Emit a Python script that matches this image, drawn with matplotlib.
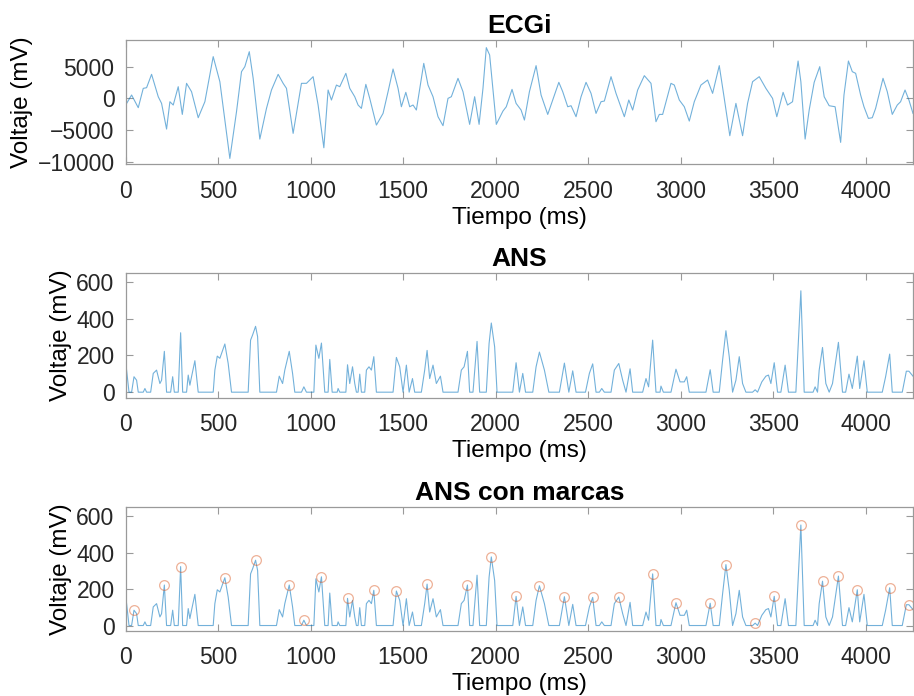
import matplotlib
matplotlib.use('Agg')
import matplotlib.pyplot as plt

plt.rcParams['font.family'] = ['Liberation Sans', 'DejaVu Sans']

# ECGi signal (ms, mV)
ecg_t = [0, 32, 68, 95, 113, 140, 176, 194, 221, 239, 257, 284, 306, 329, 356, 392, 428, 473, 509,
         563, 599, 626, 644, 668, 689, 725, 761, 788, 824, 851, 869, 905, 950, 977, 1013, 1040, 1071,
         1094, 1112, 1139, 1157, 1190, 1211, 1238, 1256, 1274, 1298, 1319, 1355, 1391, 1418, 1445,
         1472, 1490, 1514, 1535, 1553, 1571, 1611, 1634, 1661, 1688, 1715, 1742, 1760, 1796, 1823,
         1859, 1886, 1910, 1931, 1949, 1967, 2003, 2039, 2057, 2088, 2110, 2137, 2155, 2182, 2218,
         2245, 2281, 2308, 2341, 2362, 2389, 2407, 2434, 2461, 2488, 2515, 2542, 2569, 2587, 2623,
         2650, 2695, 2719, 2740, 2767, 2803, 2839, 2866, 2884, 2902, 2947, 2965, 2992, 3019, 3046,
         3073, 3109, 3145, 3172, 3208, 3235, 3265, 3298, 3334, 3361, 3388, 3424, 3460, 3496, 3519,
         3553, 3577, 3604, 3634, 3649, 3672, 3694, 3721, 3751, 3775, 3802, 3834, 3864, 3882, 3906,
         3927, 3945, 3972, 3990, 4014, 4035, 4053, 4093, 4116, 4143, 4170, 4188, 4212, 4233, 4255]
ecg_v = [-1050, 530, -1470, 1580, 1680, 3790, 260, -790, -4840, -530, -1050, 1840, -2530, 2370,
         1050, -3050, -530, 6580, 2630, -9470, -2100, 4210, 5000, 7360, 3160, -6420, -1580, 1320,
         3790, 2370, 1580, -5520, 2370, 2370, 3420, -1050, -7790, 1320, -260, 2100, 1840, 3950,
         1580, 260, -1050, -1580, 2210, 0, -4210, -2370, 1050, 4630, 1580, -1320, 950, -1320,
         -1050, -1840, 5520, 2100, 260, -2890, -4310, 0, 260, 3160, 1050, -4100, 260, -4100, 1580,
         8000, 6840, -4100, -2000, -1320, 1420, -790, -1840, -3420, 1050, 5160, 530, -2530, -260,
         2530, 1050, -1320, -1160, -2890, 260, 2530, 790, -2370, -530, -420, 3420, 790, -2890, -260,
         -1840, 1320, 3580, 2370, -3680, -2530, -2530, 2370, 2100, -260, -1320, -3580, -530, 2100,
         2890, 790, 5160, 0, -5890, -790, -5890, -790, 2630, 3420, 1580, 0, -2890, 950, -1050, -530,
         5890, 2630, -6420, -1840, 2530, 5000, 260, -1160, -1320, -6940, 530, 5890, 4210, 3950, 530,
         -1320, -3160, -3050, -1580, 3160, 1050, -2530, -1050, -530, 1320, -260, -2370]

# ANS signal (ms, mV)
ans_t = [0, 18, 32, 45, 59, 68, 95, 104, 113, 135, 149, 167, 185, 194, 209, 221, 243, 254, 263, 284,
         297, 308, 329, 338, 347, 356, 374, 392, 473, 482, 495, 509, 536, 554, 572, 662, 675, 686,
         702, 713, 725, 815, 830, 848, 860, 884, 902, 914, 950, 963, 977, 1017, 1028, 1044, 1058,
         1076, 1094, 1103, 1116, 1143, 1148, 1157, 1190, 1199, 1211, 1226, 1238, 1247, 1256, 1265,
         1274, 1292, 1301, 1315, 1328, 1341, 1355, 1445, 1463, 1481, 1499, 1517, 1532, 1550, 1562,
         1598, 1616, 1629, 1643, 1661, 1679, 1701, 1715, 1796, 1814, 1829, 1847, 1859, 1877, 1899,
         1913, 1949, 1964, 1976, 1994, 2007, 2092, 2110, 2128, 2146, 2161, 2200, 2218, 2236, 2263,
         2287, 2344, 2371, 2395, 2416, 2434, 2485, 2506, 2524, 2542, 2560, 2573, 2587, 2623, 2641,
         2665, 2686, 2704, 2726, 2740, 2794, 2812, 2826, 2848, 2866, 2888, 2893, 2906, 2947, 2974,
         2996, 3019, 3032, 3046, 3136, 3159, 3175, 3208, 3226, 3244, 3262, 3280, 3298, 3316, 3334,
         3352, 3388, 3402, 3415, 3438, 3460, 3474, 3487, 3505, 3523, 3541, 3564, 3582, 3622, 3649,
         3667, 3715, 3726, 3739, 3748, 3766, 3784, 3802, 3820, 3852, 3874, 3891, 3909, 3927, 3954,
         3967, 3990, 4008, 4089, 4107, 4129, 4143, 4197, 4219, 4233, 4255]
ans_v = [165, 0, 0, 84, 65, 0, 0, 20, 0, 0, 102, 120, 47, 65, 222, 0, 0, 84, 0, 0, 323, 0, 0, 93, 38,
         84, 171, 0, 0, 120, 196, 184, 262, 156, 0, 0, 283, 311, 358, 302, 0, 0, 87, 47, 120, 222,
         102, 0, 0, 29, 0, 0, 256, 184, 267, 0, 0, 178, 0, 0, 20, 0, 0, 149, 47, 138, 47, 0, 0, 98,
         0, 0, 120, 138, 120, 193, 0, 0, 189, 138, 0, 147, 0, 74, 0, 0, 120, 227, 74, 147, 47, 87, 0,
         0, 120, 138, 222, 0, 0, 276, 0, 0, 265, 376, 247, 0, 0, 160, 0, 102, 0, 0, 138, 218, 120, 0,
         0, 158, 0, 116, 0, 0, 102, 154, 0, 0, 20, 0, 0, 120, 156, 65, 0, 127, 0, 0, 74, 29, 283, 0,
         0, 33, 0, 0, 125, 56, 56, 84, 0, 0, 122, 0, 0, 174, 334, 193, 0, 65, 193, 47, 0, 0, 13, 0,
         56, 87, 93, 47, 160, 0, 0, 147, 0, 0, 551, 0, 0, 29, 0, 120, 243, 47, 0, 47, 271, 0, 0, 98,
         20, 196, 20, 171, 0, 0, 84, 207, 0, 0, 114, 114, 87]

# detected marks
mark_t = [45, 209, 297, 536, 702, 884, 963, 1058, 1199, 1341, 1463, 1629, 1847, 1976, 2110, 2236,
          2371, 2524, 2665, 2848, 2974, 3159, 3244, 3402, 3505, 3649, 3766, 3852, 3954, 4129, 4233]
mark_v = [85, 222, 323, 262, 358, 222, 29, 267, 149, 193, 189, 227, 222, 376, 160, 218, 158, 154,
          156, 283, 125, 122, 334, 13, 160, 551, 243, 271, 196, 207, 114]

x_ticks = [0, 500, 1000, 1500, 2000, 2500, 3000, 3500, 4000]
titles = ['ECGi', 'ANS', 'ANS con marcas']

line_color = '#0072BD'
mark_color = '#D95319'
spine_color = '#9a9a9a'
text_color = '#262626'

fig = plt.figure(figsize=(9.14, 6.96), dpi=100)
left, width = 0.1375, 0.8614
boxes = [(left, 0.7639, width, 0.1786),
         (left, 0.4286, width, 0.1792),
         (left, 0.0934, width, 0.1777)]
axes = [fig.add_axes(b) for b in boxes]

axes[0].plot(ecg_t, ecg_v, color=line_color, lw=0.8, alpha=0.55)
axes[0].set_ylim(-10400, 9200)
axes[0].set_yticks([-10000, -5000, 0, 5000])

axes[1].plot(ans_t, ans_v, color=line_color, lw=0.8, alpha=0.55)
axes[2].plot(ans_t, ans_v, color=line_color, lw=0.8, alpha=0.55)
axes[2].plot(mark_t, mark_v, 'o', ms=7, mfc='none', mec=mark_color, mew=0.9, alpha=0.45)
for ax in axes[1:]:
    ax.set_ylim(-30, 648)
    ax.set_yticks([0, 200, 400, 600])

for ax, title in zip(axes, titles):
    ax.set_xlim(0, 4255)
    ax.set_xticks(x_ticks)
    ax.set_title(title, fontsize=19, fontweight='bold', pad=5)
    ax.set_xlabel('Tiempo (ms)', fontsize=17.5, color='black', labelpad=3)
    ax.set_ylabel('Voltaje (mV)', fontsize=17.5, color='black', labelpad=3)
    ax.tick_params(direction='in', length=5, width=0.8, color=spine_color,
                   labelsize=16.5, labelcolor=text_color, top=True, right=True)
    ax.tick_params(axis='x', pad=11)
    ax.tick_params(axis='y', pad=8)
    for s in ax.spines.values():
        s.set_color(spine_color)
        s.set_linewidth(0.9)

fig.savefig('out.png', dpi=100)
